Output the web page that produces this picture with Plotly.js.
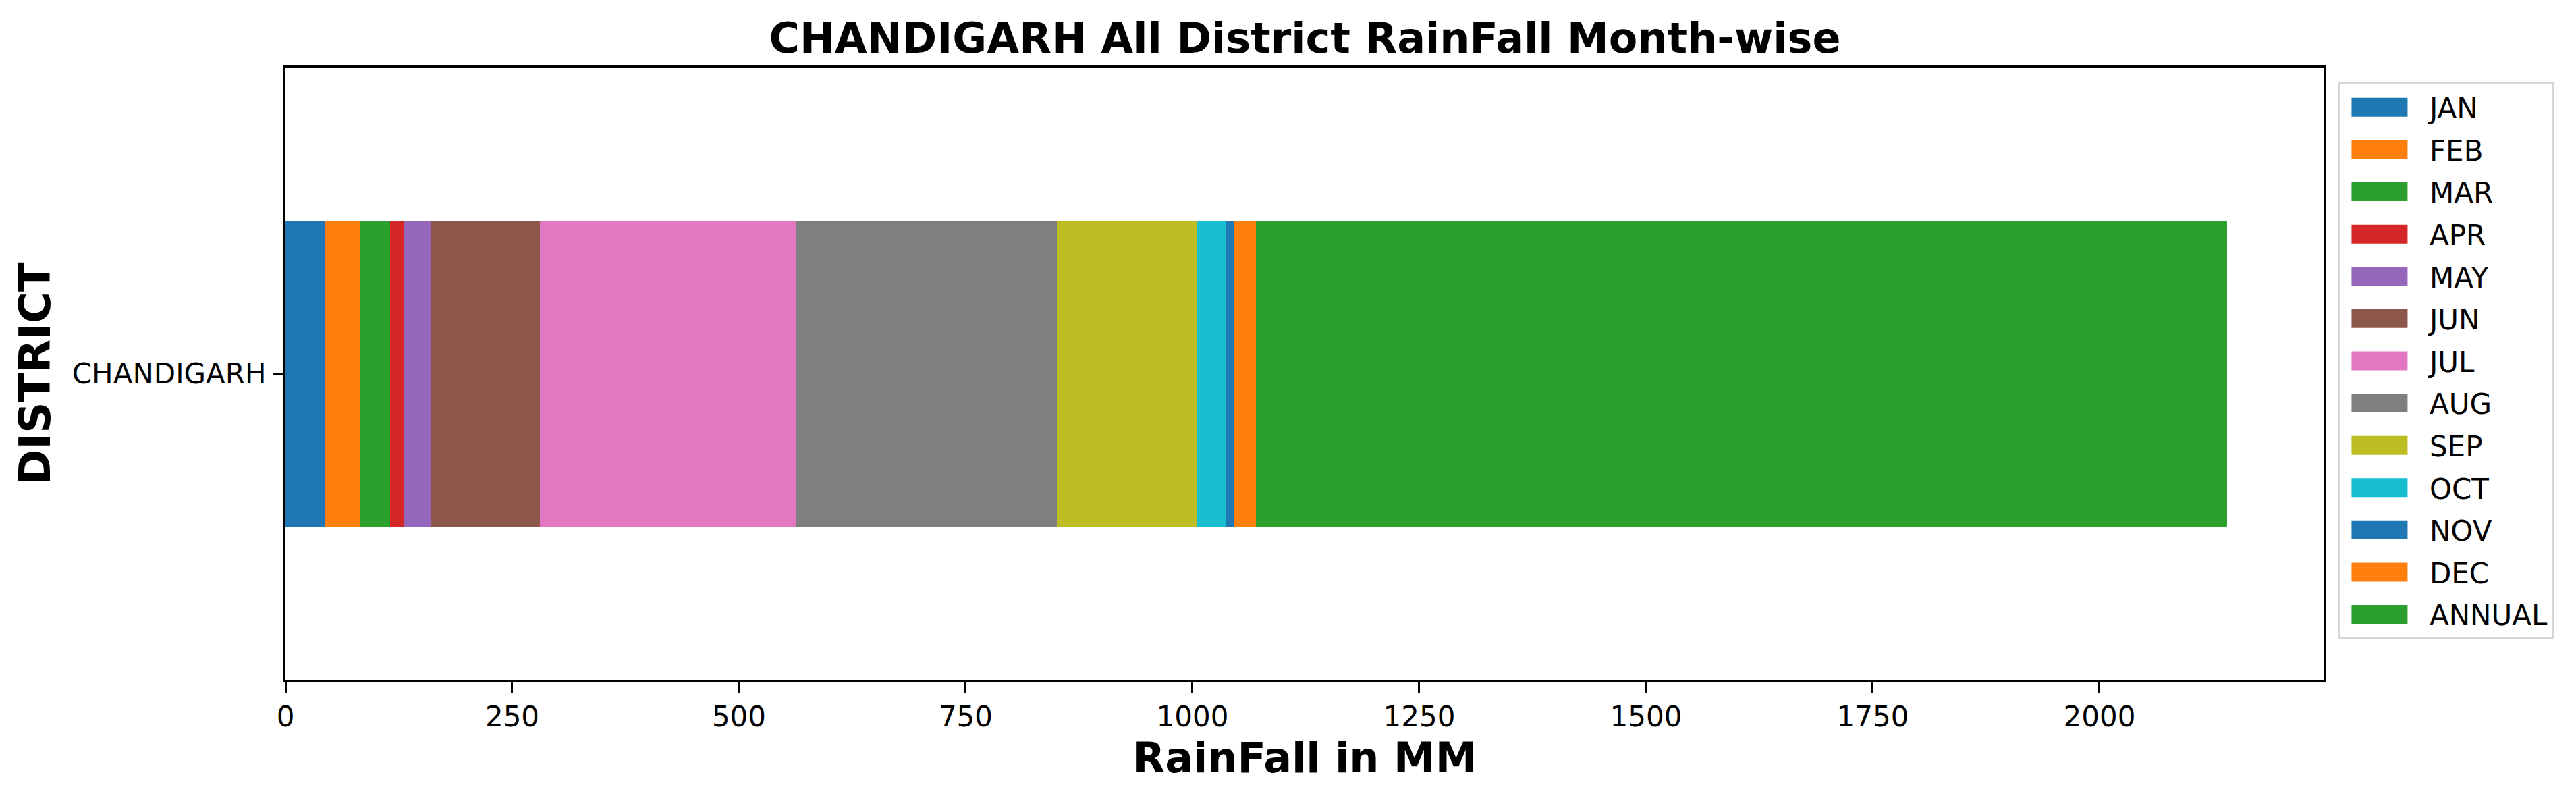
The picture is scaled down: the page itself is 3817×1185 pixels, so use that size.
<!DOCTYPE html>
<html>
<head>
<meta charset="utf-8">
<script src="https://cdn.plot.ly/plotly-3.0.1.min.js"></script>
<style>html,body{margin:0;padding:0;background:#fff;}</style>
</head>
<body>
<div id="chart" style="width:3817px;height:1185px;"></div>
<script>
const districts = ["CHANDIGARH"];
const seriesNames = ["JAN","FEB","MAR","APR","MAY","JUN","JUL","AUG","SEP","OCT","NOV","DEC","ANNUAL"];
const JAN = [43.2];
const FEB = [38.9];
const MAR = [33.3];
const APR = [14.9];
const MAY = [29.5];
const JUN = [120.8];
const JUL = [282.0];
const AUG = [287.6];
const SEP = [154.3];
const OCT = [31.8];
const NOV = [10.0];
const DEC = [23.7];
const ANNUAL = [1070.8];
const seriesValues = [JAN,FEB,MAR,APR,MAY,JUN,JUL,AUG,SEP,OCT,NOV,DEC,ANNUAL];
const xTicks = [0,250,500,750,1000,1250,1500,1750,2000];
const colors = ["#1f77b4","#ff7f0e","#2ca02c","#d62728","#9467bd","#8c564b","#e377c2","#7f7f7f","#bcbd22","#17becf","#1f77b4","#ff7f0e","#2ca02c"];

const total = seriesValues.reduce((s, v) => s + v[0], 0);

const traces = seriesNames.map((name, i) => ({
  type: 'bar',
  orientation: 'h',
  name: name,
  legendgroup: 'g' + i,
  y: districts,
  x: seriesValues[i],
  width: 0.5,
  marker: {color: colors[i], line: {width: 0}},
  hoverinfo: 'x+name'
}));

const font = "DejaVu Sans, Verdana, sans-serif";
const layout = {
  width: 3817,
  height: 1185,
  barmode: 'stack',
  paper_bgcolor: '#ffffff',
  plot_bgcolor: '#ffffff',
  margin: {l: 423, r: 373, t: 100, b: 178, pad: 0},
  font: {family: font, color: '#000'},
  title: {
    text: 'CHANDIGARH All District RainFall Month-wise',
    font: {family: font, size: 62, weight: 'bold', color: '#000'},
    x: 0.5, xref: 'paper', xanchor: 'center',
    y: 1 - 56/1185, yref: 'container', yanchor: 'middle'
  },
  xaxis: {
    range: [0, total * 1.05],
    tickvals: xTicks,
    ticktext: xTicks.map(String),
    ticks: 'outside', ticklen: 16, tickwidth: 3, tickcolor: '#000',
    tickfont: {family: font, size: 42, color: '#000'},
    showline: true, linecolor: '#000', linewidth: 3, mirror: true,
    showgrid: false, zeroline: false,
    automargin: false,
    title: {text: 'RainFall in MM', font: {family: font, size: 62, weight: 'bold', color: '#000'}, standoff: 14}
  },
  yaxis: {
    type: 'category',
    range: [-0.5, 0.5],
    ticks: 'outside', ticklen: 15, tickwidth: 3, tickcolor: '#000',
    ticklabelstandoff: 2,
    tickfont: {family: font, size: 42, color: '#000'},
    showline: true, linecolor: '#000', linewidth: 3, mirror: true,
    showgrid: false, zeroline: false,
    automargin: false,
    title: {text: 'DISTRICT', font: {family: font, size: 64, weight: 'bold', color: '#000'}, standoff: 12}
  },
  legend: {
    x: 1.0066, xanchor: 'left',
    y: 0.9757, yanchor: 'top',
    bgcolor: '#ffffff',
    bordercolor: '#d6d6d6', borderwidth: 3,
    font: {family: font, size: 42, color: '#000'},
    traceorder: 'grouped',
    tracegroupgap: 5,
    itemwidth: 123
  },
  showlegend: true
};

Plotly.newPlot('chart', traces, layout, {displayModeBar: false, staticPlot: true}).then(gd => {
  // widen legend swatches to matplotlib-style patches
  gd.querySelectorAll('.legend path.legendbar, .legend path.legendundefined').forEach(p => {
    p.setAttribute('d', 'M-49,14H34V-14H-49Z');
  });
});
</script>
</body>
</html>
